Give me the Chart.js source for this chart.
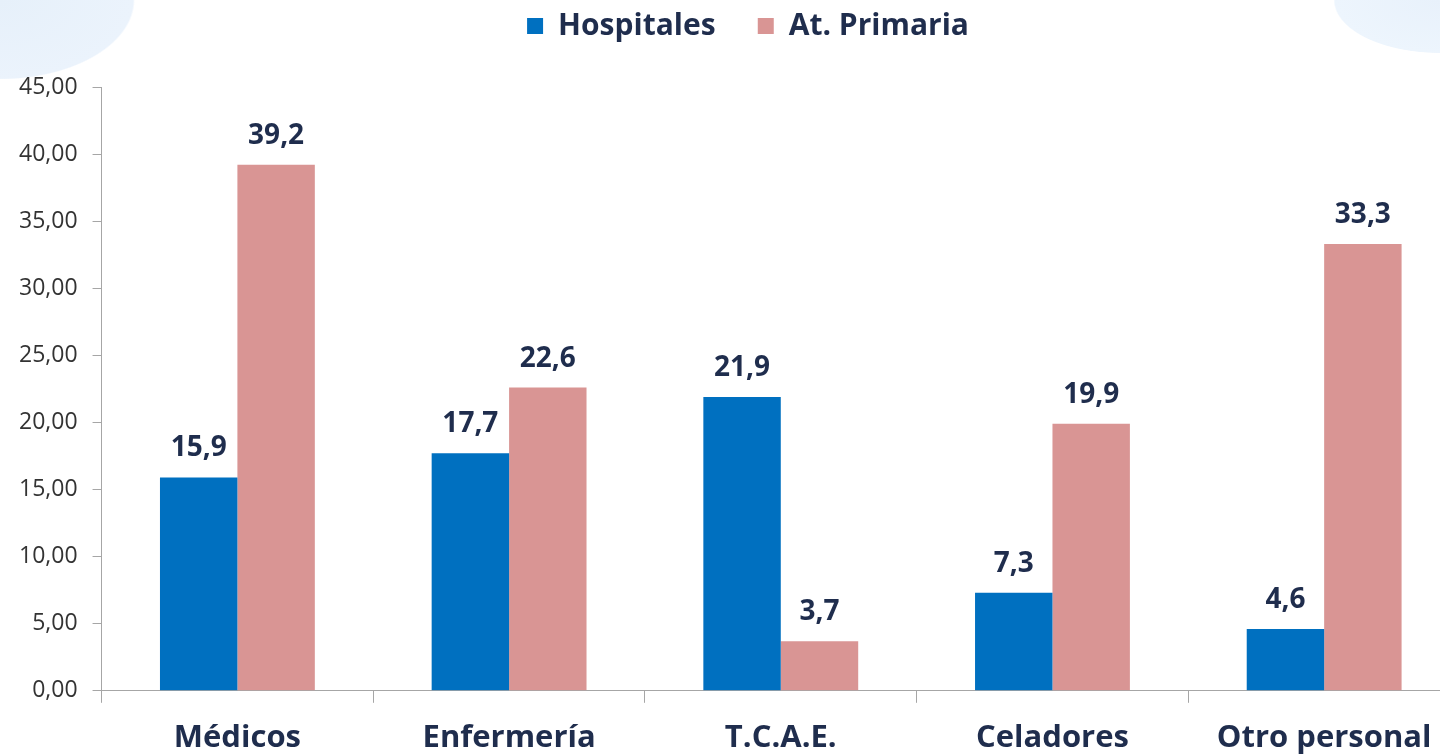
<!DOCTYPE html>
<html>
<head>
<meta charset="utf-8">
<script src="https://cdn.jsdelivr.net/npm/chart.js@4.4.1/dist/chart.umd.min.js"></script>
<style>
  html, body { margin: 0; padding: 0; width: 1440px; height: 756px; overflow: hidden; }
  body {
    background:
      radial-gradient(ellipse 190px 112px at 0 0, #e6f0fa 0%, #ebf3fc 70%, rgba(255,255,255,0) 71%),
      radial-gradient(ellipse 150px 75px at 1440px 0, #e8f1fb 0%, #edf5fd 70%, rgba(255,255,255,0) 71%),
      #ffffff;
  }
  #wrap { position: absolute; left: 0; top: 0; width: 1500px; height: 774px; }
</style>
</head>
<body>
<div id="wrap"><canvas id="chart"></canvas></div>
<script>
// Data
const categories = ['Médicos', 'Enfermería', 'T.C.A.E.', 'Celadores', 'Otro personal'];
const hospitales = [15.9, 17.7, 21.9, 7.3, 4.6];
const atPrimaria = [39.2, 22.6, 3.7, 19.9, 33.3];
const seriesNames = ['Hospitales', 'At. Primaria'];

const NAVY = '#1f2d4d';
const FONT = "'Open Sans', 'DejaVu Sans', sans-serif";

// Value labels above each bar
const valueLabels = {
    id: 'valueLabels',
    afterDatasetsDraw(chart) {
        const ctx = chart.ctx;
        ctx.save();
        ctx.font = 'bold 28px ' + FONT;
        ctx.fillStyle = NAVY;
        ctx.textAlign = 'center';
        ctx.textBaseline = 'alphabetic';
        chart.data.datasets.forEach((ds, i) => {
            chart.getDatasetMeta(i).data.forEach((bar, j) => {
                const txt = ds.data[j].toFixed(1).replace('.', ',');
                ctx.fillText(txt, bar.x, bar.y - 21);
            });
        });
        ctx.restore();
    }
};

// extra room between legend and plot, legend nudged right
const legendSpacer = {
    id: 'legendSpacer',
    beforeInit(chart) {
        const fit = chart.legend.fit;
        chart.legend.fit = function () {
            fit.bind(chart.legend)();
            this.height += 36;
        };
    },
    afterLayout(chart) {
        chart.legend.left += 16;
        chart.legend.right += 16;
    }
};

new Chart(document.getElementById('chart'), {
    type: 'bar',
    data: {
        labels: categories,
        datasets: [{
            label: seriesNames[0],
            data: hospitales,
            backgroundColor: '#0070c0',
            categoryPercentage: 0.57,
            barPercentage: 1.0
        }, {
            label: seriesNames[1],
            data: atPrimaria,
            backgroundColor: '#d99594',
            categoryPercentage: 0.57,
            barPercentage: 1.0
        }]
    },
    options: {
        responsive: true,
        maintainAspectRatio: false,
        animation: false,
        layout: { padding: { left: 4, right: 40, top: 0, bottom: 0 } },
        plugins: {
            legend: {
                position: 'top',
                labels: {
                    boxWidth: 16,
                    boxHeight: 16,
                    padding: 11,
                    color: NAVY,
                    font: { family: FONT, size: 30, weight: 'bold' },
                    generateLabels(chart) {
                        const items = Chart.defaults.plugins.legend.labels.generateLabels(chart);
                        // wider gap after the first entry
                        items[0].text = items[0].text + '\u00a0\u00a0\u00a0\u00a0';
                        return items;
                    }
                }
            },
            tooltip: { enabled: false }
        },
        scales: {
            x: {
                grid: { offset: true, drawOnChartArea: false, tickLength: 12, color: '#a6a6a6' },
                border: { color: '#a6a6a6' },
                ticks: {
                    color: NAVY,
                    padding: 17,
                    font: { family: FONT, size: 31, weight: 'bold' }
                }
            },
            y: {
                min: 0,
                max: 45,
                grid: { drawOnChartArea: false, tickLength: 9, color: '#a6a6a6' },
                border: { color: '#a6a6a6' },
                ticks: {
                    stepSize: 5,
                    color: '#333333',
                    padding: 15,
                    font: { family: FONT, size: 23 },
                    callback: v => v.toFixed(2).replace('.', ',')
                }
            }
        }
    },
    plugins: [valueLabels, legendSpacer]
});
</script>
</body>
</html>
